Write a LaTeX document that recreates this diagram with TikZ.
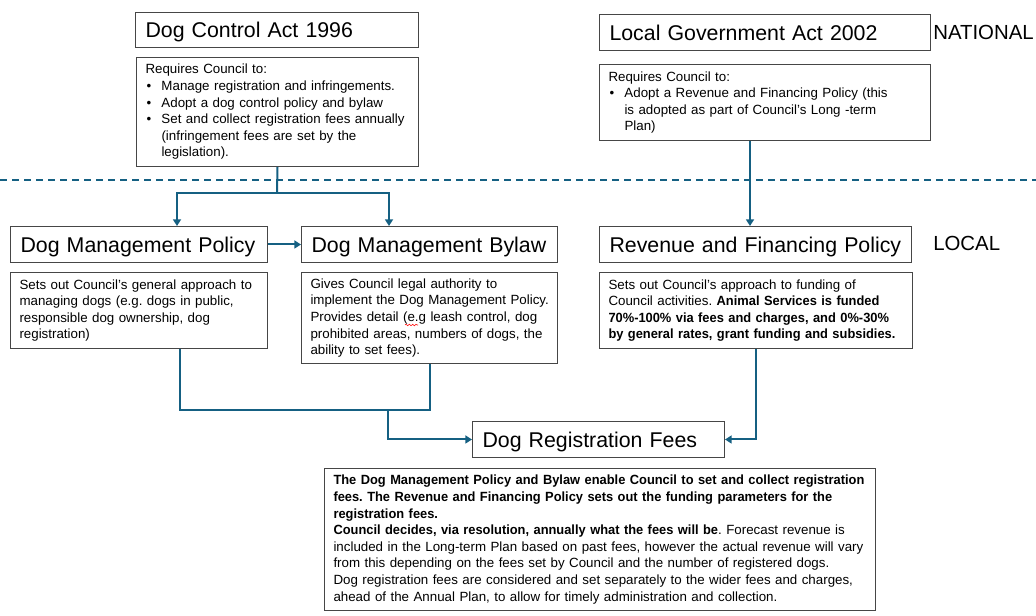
\documentclass[tikz,border=0pt]{standalone}
\usepackage{fontspec}
\setmainfont{Liberation Sans}[BoldFeatures={FakeStretch=0.965}]
\usetikzlibrary{arrows.meta,decorations.pathmorphing}
\definecolor{lineblue}{RGB}{21,96,130}
\definecolor{boxline}{RGB}{70,70,70}
\newcommand\bul{\makebox[12pt][l]{\hspace{0.75pt}•}}
\newcommand\ind{\hspace*{12pt}}
\frenchspacing
\begin{document}
\begin{tikzpicture}[x=0.75pt,y=-0.75pt,
  tbox/.style={draw=boxline, line width=0.75pt, anchor=north west, inner xsep=7.5pt, inner ysep=0pt, text depth=0pt, align=left, font=\fontsize{16}{19}\selectfont},
  bbox/.style={draw=boxline, line width=0.75pt, anchor=north west, inner xsep=6.75pt, inner ysep=0pt, align=left, font=\fontsize{10}{12.45}\selectfont},
  lvl/.style={anchor=west, inner sep=0pt, text depth=0pt, font=\fontsize{15.3}{18}\selectfont},
  conn/.style={draw=lineblue, line width=1.5pt},
  arr/.style={conn, -{Triangle[width=6pt,length=5pt]}},
  divider/.style={draw=lineblue, line width=1.5pt, dash pattern=on 5.25pt off 3.75pt}
]
\useasboundingbox (0,0) rectangle (1036,616);

% national
\node[tbox, minimum width=212.25pt, minimum height=26.25pt, text width=197.25pt] (dca) at (135,12) {Dog Control Act 1996};
\node[bbox, minimum width=211.5pt, minimum height=81.75pt, text width=198pt] (dcab) at (136,57) {%
\mbox{Requires Council to:}\\
\mbox{\bul Manage registration and infringements.}\\
\mbox{\bul Adopt a dog control policy and bylaw}\\
\mbox{\bul Set and collect registration fees annually}\\
\mbox{\ind (infringement fees are set by the}\\
\mbox{\ind legislation).}};

\node[tbox, minimum width=248.25pt, minimum height=27pt, text width=233.25pt] (lga) at (599,14) {Local Government Act 2002};
\node[bbox, minimum width=248.25pt, minimum height=57pt, text width=234.75pt] (lgab) at (599,64) {%
\mbox{Requires Council to:}\\
\mbox{\bul Adopt a Revenue and Financing Policy (this}\\
\mbox{\ind is adopted as part of Council’s Long -term}\\
\mbox{\ind Plan)}};

\node[lvl] (national) at (933,32) {NATIONAL};
\node[lvl] (local) at (933,243) {LOCAL};

\draw[divider] (0,180) -- (1036,180);

% local
\node[tbox, minimum width=192.75pt, minimum height=27pt, text width=177.75pt] (dmp) at (10,226) {Dog Management Policy};
\node[tbox, minimum width=192pt, minimum height=27pt, text width=177pt] (dmb) at (301,226) {Dog Management Bylaw};
\node[tbox, minimum width=234pt, minimum height=27pt, text width=219pt] (rfp) at (599,226) {Revenue and Financing Policy};

\node[bbox, minimum width=192.75pt, minimum height=57pt, text width=179.25pt] (dmpb) at (10,272) {%
\mbox{Sets out Council’s general approach to}\\
\mbox{managing dogs (e.g. dogs in public,}\\
\mbox{responsible dog ownership, dog}\\
\mbox{registration)}};
\node[bbox, minimum width=192pt, minimum height=68.25pt, text width=178.5pt] (dmbb) at (301,272) {%
\mbox{Gives Council legal authority to}\\
\mbox{implement the Dog Management Policy.}\\
\mbox{Provides detail (e.g leash control, dog}\\
\mbox{prohibited areas, numbers of dogs, the}\\
\mbox{ability to set fees).}};
\node[bbox, minimum width=234.75pt, minimum height=57pt, text width=221.25pt] (rfpb) at (599,272) {%
\mbox{Sets out Council’s approach to funding of}\\
\mbox{Council activities. \textbf{Animal Services is funded}}\\
\mbox{\textbf{70\%-100\% via fees and charges, and 0\%-30\%}}\\
\mbox{\textbf{by general rates, grant funding and subsidies.}}};

\node[tbox, minimum width=189pt, minimum height=27pt, text width=174pt] (drf) at (472,421) {Dog Registration Fees};
\node[bbox, minimum width=413.25pt, minimum height=106.5pt, text width=399.75pt] (drfb) at (324,468) {%
\mbox{\textbf{The Dog Management Policy and Bylaw enable Council to set and collect registration}}\\
\mbox{\textbf{fees. The Revenue and Financing Policy sets out the funding parameters for the}}\\
\mbox{\textbf{registration fees.}}\\
\mbox{\textbf{Council decides, via resolution, annually what the fees will be}. Forecast revenue is}\\
\mbox{included in the Long-term Plan based on past fees, however the actual revenue will vary}\\
\mbox{from this depending on the fees set by Council and the number of registered dogs.}\\
\mbox{Dog registration fees are considered and set separately to the wider fees and charges,}\\
\mbox{ahead of the Annual Plan, to allow for timely administration and collection.}};

% spell-check squiggle
\draw[red, line width=0.4pt, decorate, decoration={snake, amplitude=0.6pt, segment length=2.5pt}] (405,325) -- (418,325);

% connectors
\coordinate (j1) at (277,193);
\draw[conn] (dcab.south) -- (j1);
\draw[arr] (j1) -| (dmp.north -| 177,0);
\draw[arr] (j1) -| (dmb.north -| 389,0);
\draw[arr] (dmp.east) -- (dmb.west);
\draw[arr] (lgab.south -| 750,0) -- (rfp.north -| 750,0);

\coordinate (j2) at (180,410);
\coordinate (j3) at (388,410);
\draw[conn] (dmpb.south -| j2) -- (j2) -- (j2 -| dmbb.south) -- (dmbb.south);
\draw[arr] (j3) |- (drf.west);
\draw[arr] (rfpb.south) |- (drf.east);
\end{tikzpicture}
\end{document}
